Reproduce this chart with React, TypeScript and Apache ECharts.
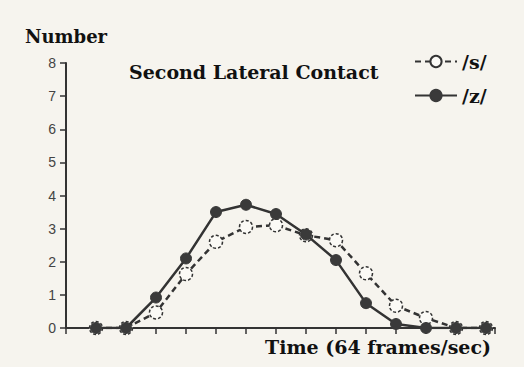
import React, { useEffect, useRef } from "react";
import * as echarts from "echarts";

const frames = [1, 2, 3, 4, 5, 6, 7, 8, 9, 10, 11, 12, 13, 14];
const sValues = [0, 0, 0.47, 1.63, 2.6, 3.05, 3.1, 2.8, 2.65, 1.65, 0.67, 0.3, 0, 0];
const zValues = [0, 0, 0.92, 2.1, 3.5, 3.72, 3.44, 2.82, 2.05, 0.75, 0.12, 0, 0, 0];
const yTicks = [0, 1, 2, 3, 4, 5, 6, 7, 8];

const SERIF = "'DejaVu Serif', 'Liberation Serif', serif";
const INK = "#333";

export default function App() {
  const ref = useRef<HTMLDivElement>(null);
  useEffect(() => {
    if (!ref.current) return;
    const chart = echarts.init(ref.current, undefined, { renderer: "svg" });
    chart.setOption({
      animation: false,
      backgroundColor: "#f6f4ee",
      title: {
        text: "Second Lateral Contact",
        left: 129,
        top: 62,
        padding: 0,
        textStyle: { fontFamily: SERIF, fontWeight: "bold", fontSize: 19, color: "#111" },
      },
      legend: {
        orient: "vertical",
        left: 414,
        top: 51,
        padding: 0,
        itemWidth: 42,
        itemHeight: 14,
        itemGap: 13,
        textStyle: { fontFamily: SERIF, fontWeight: "bold", fontSize: 19, lineHeight: 21, color: "#111" },
        data: ["/s/", "/z/"],
      },
      grid: { left: 66, right: 29, top: 63, bottom: 39 },
      xAxis: {
        type: "value",
        min: 0,
        max: 14.3,
        interval: 1,
        name: "Time (64 frames/sec)",
        nameLocation: "end",
        nameGap: -4,
        nameTextStyle: {
          fontFamily: SERIF,
          fontWeight: "bold",
          fontSize: 19,
          color: "#111",
          align: "right",
          verticalAlign: "top",
          padding: [9, 0, 0, 0],
        },
        axisLine: { lineStyle: { color: INK, width: 2 } },
        axisTick: { show: true, length: 6, lineStyle: { color: INK, width: 1.5 } },
        axisLabel: { show: false },
        splitLine: { show: false },
      },
      yAxis: {
        type: "value",
        min: 0,
        max: yTicks[yTicks.length - 1],
        interval: 1,
        name: "Number",
        nameLocation: "end",
        nameGap: 18,
        nameTextStyle: {
          fontFamily: SERIF,
          fontWeight: "bold",
          fontSize: 18,
          color: "#111",
          align: "center",
        },
        axisLine: { show: true, lineStyle: { color: INK, width: 2 } },
        axisTick: { show: true, length: 6, lineStyle: { color: INK, width: 1.5 } },
        axisLabel: {
          fontFamily: "'Liberation Sans', Arial, sans-serif",
          fontSize: 14,
          color: "#444",
          margin: 10,
        },
        splitLine: { show: false },
      },
      series: [
        {
          name: "/s/",
          type: "line",
          data: frames.map((f, i) => [f, sValues[i]]),
          symbol: "circle",
          symbolSize: 13,
          lineStyle: { color: INK, width: 2.5, type: [6, 4] },
          itemStyle: { color: "#fbfaf6", borderColor: INK, borderWidth: 1.5, borderType: [3, 2] },
          z: 2,
        },
        {
          name: "/z/",
          type: "line",
          data: frames.map((f, i) => [f, zValues[i]]),
          symbol: "circle",
          symbolSize: 11,
          lineStyle: { color: INK, width: 2.5 },
          itemStyle: { color: "#3a3a3a", borderColor: "#3a3a3a", borderWidth: 1 },
          z: 3,
        },
      ],
    });
    return () => chart.dispose();
  }, []);
  return (
    <div
      ref={ref}
      style={{ position: "absolute", left: 0, top: 0, width: 524, height: 367 }}
    />
  );
}
